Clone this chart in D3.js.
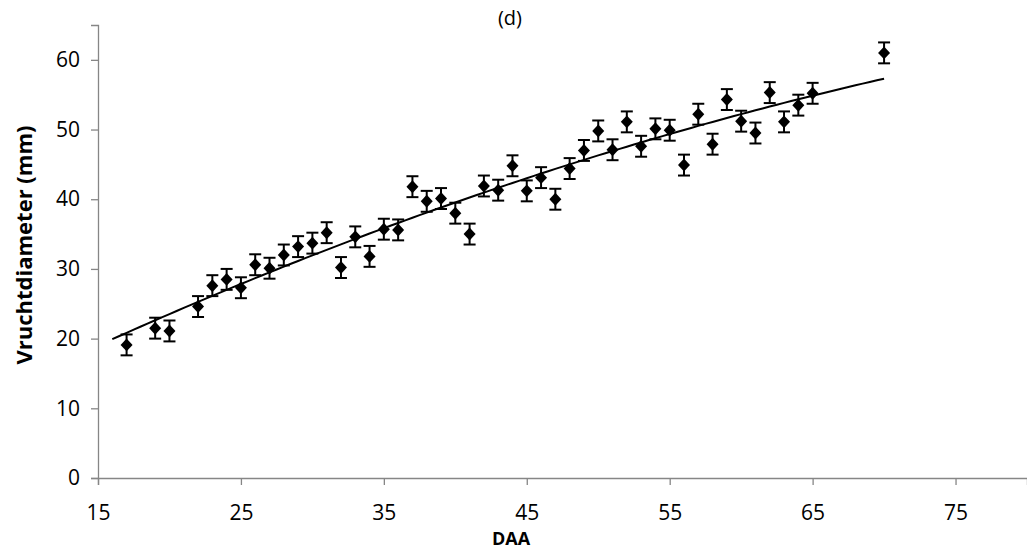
<!DOCTYPE html>
<html>
<head>
<meta charset="utf-8">
<script src="https://cdn.jsdelivr.net/npm/d3@7"></script>
<style>
  body { margin: 0; background: #fff; }
  svg { display: block; }
  text { font-family: "Open Sans", "Liberation Sans", sans-serif; fill: #000; }
</style>
</head>
<body>
<svg id="chart" width="1027" height="550"></svg>
<script>
// Days after anthesis and mean fruit diameter (mm)
const daa = [17, 19, 20, 22, 23, 24, 25, 26, 27, 28, 29, 30, 31, 32, 33, 34, 35, 36,
             37, 38, 39, 40, 41, 42, 43, 44, 45, 46, 47, 48, 49, 50, 51, 52, 53, 54,
             55, 56, 57, 58, 59, 60, 61, 62, 63, 64, 65, 70];
const diameter = [19.1, 21.5, 21.1, 24.6, 27.6, 28.5, 27.3, 30.6, 30.1, 32.0, 33.2, 33.7,
                  35.2, 30.2, 34.6, 31.8, 35.7, 35.6, 41.8, 39.7, 40.1, 38.0, 35.0, 41.9,
                  41.3, 44.8, 41.2, 43.1, 40.0, 44.4, 47.0, 49.8, 47.1, 51.1, 47.6, 50.1,
                  49.9, 44.9, 52.2, 47.9, 54.3, 51.2, 49.5, 55.3, 51.1, 53.5, 55.2, 61.0];
// Standard error per observation (mm)
const stdError = [1.5, 1.5, 1.5, 1.5, 1.5, 1.5, 1.5, 1.5, 1.5, 1.5, 1.5, 1.5,
                  1.5, 1.5, 1.5, 1.5, 1.5, 1.5, 1.5, 1.5, 1.5, 1.5, 1.5, 1.5,
                  1.5, 1.5, 1.5, 1.5, 1.5, 1.5, 1.5, 1.5, 1.5, 1.5, 1.5, 1.5,
                  1.5, 1.5, 1.5, 1.5, 1.5, 1.5, 1.5, 1.5, 1.5, 1.5, 1.5, 1.5];
const xTicks = [15, 25, 35, 45, 55, 65, 75];
const yTicks = [0, 10, 20, 30, 40, 50, 60];
const trendRange = [16, 70];

const svg = d3.select("#chart");
const x = d3.scaleLinear().domain([15, 80]).range([98, 1027]);
const y = d3.scaleLinear().domain([0, 65]).range([478, 25]);
const axisColor = "#868686";

// Axes
const xAxis = svg.append("g")
  .attr("transform", `translate(0,${y(0)})`)
  .call(d3.axisBottom(x).tickValues(xTicks).tickSizeOuter(0).tickSize(7).tickPadding(20));
const yAxis = svg.append("g")
  .attr("transform", `translate(${x(15)},0)`)
  .call(d3.axisLeft(y).tickValues(yTicks).tickSizeOuter(0).tickSize(7).tickPadding(11));
[xAxis, yAxis].forEach(g => {
  g.selectAll("path, line").attr("stroke", axisColor).attr("stroke-width", 1.3);
  g.selectAll("text").attr("font-size", 21).attr("fill", "#000")
    .attr("font-family", "\"Open Sans\", sans-serif");
});

// Second-order polynomial least-squares fit of diameter on DAA
function quadFit(xs, ys) {
  const n = xs.length;
  let s = [0, 0, 0, 0, 0], t = [0, 0, 0];
  for (let i = 0; i < n; i++) {
    const xi = xs[i], yi = ys[i];
    for (let k = 0; k < 5; k++) s[k] += Math.pow(xi, k);
    for (let k = 0; k < 3; k++) t[k] += yi * Math.pow(xi, k);
  }
  const A = [[s[0], s[1], s[2], t[0]], [s[1], s[2], s[3], t[1]], [s[2], s[3], s[4], t[2]]];
  for (let c = 0; c < 3; c++) {
    for (let r = c + 1; r < 3; r++) {
      const f = A[r][c] / A[c][c];
      for (let k = c; k < 4; k++) A[r][k] -= f * A[c][k];
    }
  }
  const coef = [0, 0, 0];
  for (let r = 2; r >= 0; r--) {
    let v = A[r][3];
    for (let k = r + 1; k < 3; k++) v -= A[r][k] * coef[k];
    coef[r] = v / A[r][r];
  }
  return v => coef[0] + coef[1] * v + coef[2] * v * v;
}
const trend = quadFit(daa, diameter);
const trendPts = d3.range(trendRange[0], trendRange[1] + 0.01, 0.5).map(v => [v, trend(v)]);

svg.append("path")
  .datum(trendPts)
  .attr("fill", "none")
  .attr("stroke", "#000")
  .attr("stroke-width", 2)
  .attr("d", d3.line().x(d => x(d[0])).y(d => y(d[1])));

// Error bars
const points = daa.map((d, i) => ({ d, v: diameter[i], e: stdError[i] }));
const bars = svg.append("g").attr("stroke", "#000").attr("stroke-width", 2);
points.forEach(p => {
  const cx = x(p.d), y1 = y(p.v - p.e), y2 = y(p.v + p.e);
  bars.append("line").attr("x1", cx).attr("x2", cx).attr("y1", y1).attr("y2", y2);
  bars.append("line").attr("x1", cx - 6).attr("x2", cx + 6).attr("y1", y1).attr("y2", y1);
  bars.append("line").attr("x1", cx - 6).attr("x2", cx + 6).attr("y1", y2).attr("y2", y2);
});

// Diamond markers
const diamond = {
  draw(ctx, size) {
    const h = Math.sqrt(size) / 2;
    ctx.moveTo(0, -h * 1.08);
    ctx.lineTo(h, 0);
    ctx.lineTo(0, h * 1.08);
    ctx.lineTo(-h, 0);
    ctx.closePath();
  }
};
svg.append("g").selectAll("path")
  .data(points)
  .join("path")
  .attr("transform", p => `translate(${x(p.d)},${y(p.v)})`)
  .attr("d", d3.symbol().type(diamond).size(144))
  .attr("fill", "#000");

// Titles
svg.append("text").attr("x", 510).attr("y", 25).attr("text-anchor", "middle")
  .attr("font-size", 20).text("(d)");
svg.append("text").attr("x", 511).attr("y", 545).attr("text-anchor", "middle")
  .attr("font-size", 18).attr("font-weight", "bold").text("DAA");
svg.append("text")
  .attr("transform", "translate(32,245) rotate(-90)")
  .attr("text-anchor", "middle")
  .attr("font-size", 22).attr("font-weight", "bold").text("Vruchtdiameter (mm)");
</script>
</body>
</html>
